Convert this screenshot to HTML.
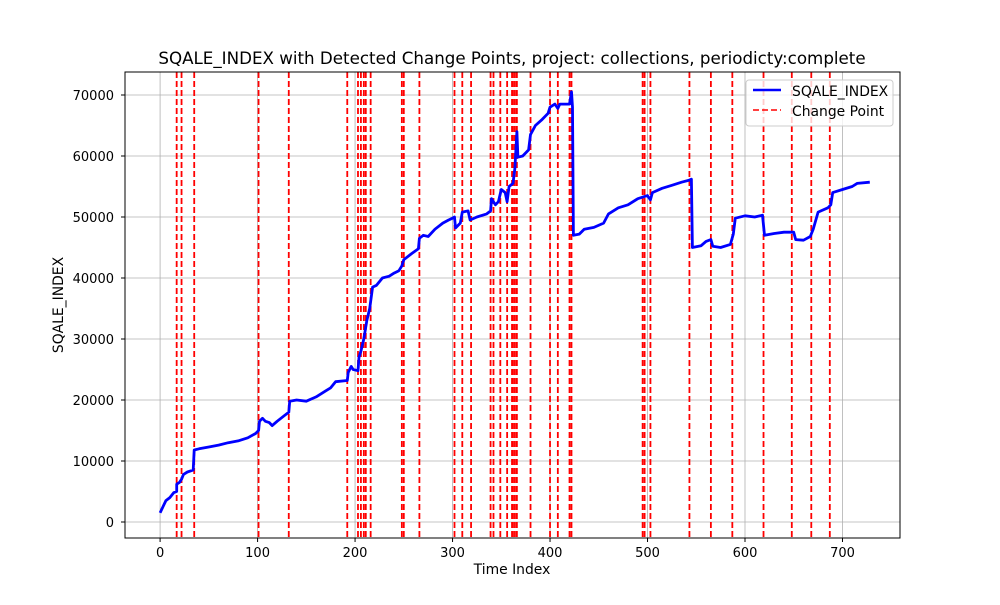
<!DOCTYPE html>
<html><head><meta charset="utf-8"><style>body{margin:0;background:#fff}svg{font-family:"DejaVu Sans","Liberation Sans",sans-serif}</style></head>
<body>
<svg id="chart" width="1000" height="600">
<rect width="1000" height="600" fill="#fff"/>
<g id="grid"></g><g id="cps"></g><g id="series"></g><g id="axes"></g>
<text x="512" y="64" text-anchor="middle" font-size="16.7">SQALE_INDEX with Detected Change Points, project: collections, periodicty:complete</text>
<text x="512" y="574" text-anchor="middle" font-size="13.9">Time Index</text>
<text transform="translate(63,305) rotate(-90)" text-anchor="middle" font-size="13.9">SQALE_INDEX</text>
<g>
<rect x="746" y="80" width="147" height="46" fill="#fff" fill-opacity="0.8" stroke="#ccc" rx="3"/>
<line x1="753" y1="90" x2="781" y2="90" stroke="#0000ff" stroke-width="2.5"/>
<text x="792" y="96" font-size="13.9">SQALE_INDEX</text>
<line x1="753" y1="110" x2="781" y2="110" stroke="#ff0000" stroke-width="1.5" stroke-dasharray="6,3"/>
<text x="792" y="116" font-size="13.9">Change Point</text>
</g>
</svg>
<script>
const xTicks=[0,100,200,300,400,500,600,700];
const yTicks=[0,10000,20000,30000,40000,50000,60000,70000];
const changePoints=[17,22,35,101,132,192,203,206,209,211,216,248,250,266,302,310,319,339,342,349,356,361,362,364,366,380,400,408,420,422,495,497,503,543,565,587,619,648,668,687];
const seriesX=[0,3,6,10,14,17,17,20,22,24,28,34,35,40,50,60,70,80,90,98,101,102,105,108,112,115,120,128,132,133,140,150,160,170,175,180,192,193,196,198,203,204,206,209,212,215,218,222,228,235,240,245,248,250,258,265,266,270,275,282,290,296,300,302,303,308,310,316,318,325,335,339,340,344,347,350,354,356,358,362,364,366,367,372,378,380,385,392,398,400,405,408,410,420,422,423,424,430,435,445,455,460,470,480,490,500,503,505,515,525,535,542,545,546,555,560,565,567,575,585,588,590,600,610,618,620,630,640,650,652,660,667,670,675,685,688,690,700,710,715,728];
const seriesY=[1500,2500,3500,4000,4800,5000,6200,6500,7000,7800,8200,8500,11800,12000,12300,12600,13000,13300,13800,14500,15000,16500,17000,16500,16300,15800,16500,17500,18000,19800,20000,19800,20500,21500,22000,23000,23200,24500,25500,25000,24800,27000,28000,30000,33000,35000,38500,38800,40000,40300,40800,41200,42000,43000,44000,44800,46500,47000,46800,48000,49000,49500,49800,50000,48200,49000,50800,51000,49500,50000,50500,51000,53000,52000,52500,54500,54000,52500,55000,55500,58000,64000,59800,60000,61000,63500,65000,66000,67000,68000,68500,67800,68500,68500,70500,68000,47000,47200,48000,48300,49000,50500,51500,52000,53000,53500,52800,54000,54700,55200,55700,56000,56200,45000,45300,46000,46300,45200,45000,45500,47200,49800,50200,50000,50300,47000,47300,47500,47500,46300,46200,46800,48000,50800,51500,52000,54000,54500,55000,55500,55700];
const L=125,R=900,T=72,B=538;
const xmin=-36,xmax=759,ymin=-2623,ymax=73770;
const X=v=>L+(v-xmin)/(xmax-xmin)*(R-L);
const Y=v=>B-(v-ymin)/(ymax-ymin)*(B-T);
const NS="http://www.w3.org/2000/svg";
function mk(tag,attrs,parent){const e=document.createElementNS(NS,tag);for(const k in attrs)e.setAttribute(k,attrs[k]);parent.appendChild(e);return e;}
const grid=document.getElementById('grid'),axes=document.getElementById('axes'),cps=document.getElementById('cps'),ser=document.getElementById('series');
xTicks.forEach(t=>{const x=X(t);
 let g=mk('line',{x1:x,x2:x,y1:T,y2:B,stroke:'#b0b0b0','stroke-width':0.8},grid);
 
 
 let k=mk('line',{x1:x,x2:x,y1:B,y2:B+4,stroke:'#000'},axes);
 
 
 let s=mk('text',{x:x,y:B+19,'text-anchor':'middle','font-size':13},axes);s.textContent=t;
 
 
});
yTicks.forEach(t=>{const y=Y(t);
 let g=mk('line',{x1:L,x2:R,y1:y,y2:y,stroke:'#b0b0b0','stroke-width':0.8},grid);
 
 
 let k=mk('line',{x1:L-4,x2:L,y1:y,y2:y,stroke:'#000'},axes);
 
 
 let s=mk('text',{x:L-11,y:y+5,'text-anchor':'end','font-size':13},axes);s.textContent=t;
 
 
});
changePoints.forEach(c=>{const x=X(c);
 let l=mk('line',{x1:x,x2:x,y1:T,y2:B,stroke:'#ff0000','stroke-width':1.8,'stroke-dasharray':'6,3'},cps);
 
 
});
const pts=seriesX.map((v,i)=>X(v).toFixed(1)+','+Y(seriesY[i]).toFixed(1)).join(' ');
const pl=mk('polyline',{points:pts,fill:'none',stroke:'#0000ff','stroke-width':2.8,'stroke-linejoin':'round'},ser);


const fr=mk('rect',{x:L,y:T,width:R-L,height:B-T,fill:'none',stroke:'#000','stroke-width':1},axes);


</script>
</body></html>
